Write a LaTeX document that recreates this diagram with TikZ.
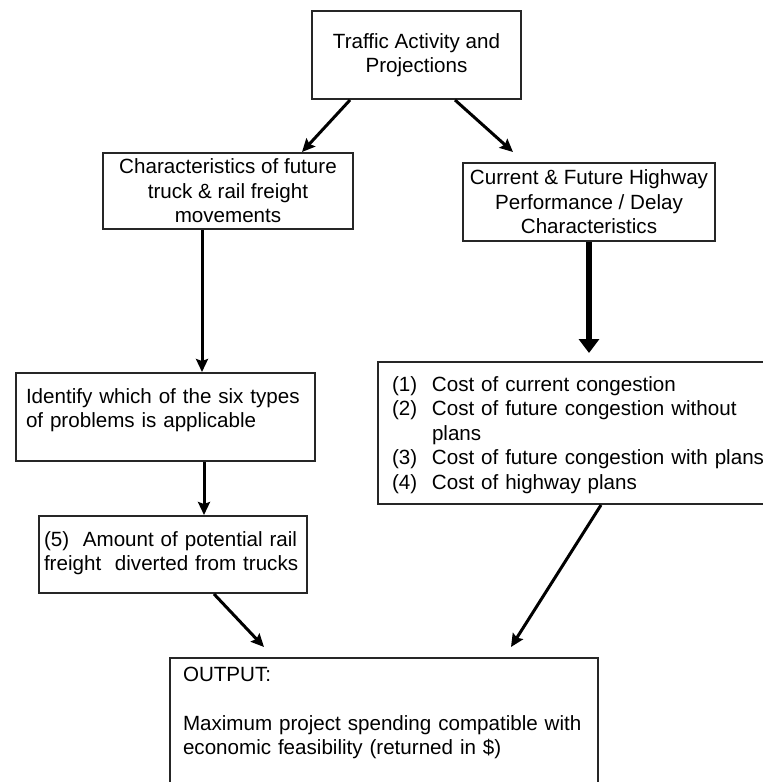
\documentclass[tikz,border=0pt]{standalone}
\usepackage{fontspec}
\setmainfont{Liberation Sans}
\usetikzlibrary{arrows.meta, calc}

\begin{document}
\begin{tikzpicture}[x=1pt, y=-1pt,
  font=\fontsize{20.6}{24.5}\selectfont,
  box/.style={draw=black!85, line width=2pt, inner sep=3pt, align=center},
  listbox/.style={draw=black!85, line width=2pt, anchor=north west, inner ysep=0pt, align=left},
  arr/.style={line width=3pt, -{Stealth[length=13pt, width=12pt, inset=2pt]}},
  bigarr/.style={line width=6pt, -{Triangle[length=14pt, width=20pt]}}]
\useasboundingbox (0,0) rectangle (763,782);

\node[box, minimum width=209pt, minimum height=88pt] (traffic) at (416.5,55) {Traffic Activity and\\Projections};
\node[box, minimum width=250pt, minimum height=76pt] (chars) at (228,191) {Characteristics of future\\truck \& rail freight\\movements};
\node[box, minimum width=252pt, minimum height=78pt] (perf) at (589,202) {Current \& Future Highway\\Performance / Delay\\Characteristics};

\node[listbox, inner xsep=10pt, text width=279pt, text height=30pt, text depth=58pt] (ident) at (15,372)
  {Identify which of the six types\\of problems is applicable};
\node[listbox, inner xsep=14pt, text width=385pt, text height=29pt, text depth=113pt] (costs) at (377,361)
  {\makebox[40pt][l]{(1)}Cost of current congestion\\
   \makebox[40pt][l]{(2)}Cost of future congestion without\\
   \hspace*{40pt}plans\\
   \makebox[40pt][l]{(3)}Cost of future congestion with plans\\
   \makebox[40pt][l]{(4)}Cost of highway plans};
\node[listbox, inner xsep=5pt, text width=258pt, text height=30pt, text depth=47pt] (rail) at (38,515)
  {(5)\ \ Amount of potential rail\\freight\ \ diverted from trucks};
\node[listbox, inner xsep=13pt, text width=402pt, text height=23pt, text depth=125pt] (output) at (169,657)
  {OUTPUT:\\[24.5pt]Maximum project spending compatible with\\economic feasibility (returned in \$)};

\draw[arr] ([xshift=-66.5pt]traffic.south) -- ([xshift=74pt]chars.north);
\draw[arr] ([xshift=38.5pt]traffic.south) -- ([xshift=-76pt, yshift=10pt]perf.north);
\draw[arr] ([xshift=-26pt]chars.south) -- ([xshift=-26pt]chars.south |- ident.north);
\draw[bigarr] (perf.south) -- ($(perf.south |- costs.north)+(0,-8)$);
\draw[arr] ([xshift=38.5pt]ident.south) -- ([xshift=38.5pt]ident.south |- rail.north);
\draw[arr] ([xshift=41pt]rail.south) -- ([xshift=-120pt, yshift=10pt]output.north);
\draw[arr] ([xshift=16.5pt]costs.south) -- ([xshift=127pt, yshift=10pt]output.north);
\end{tikzpicture}
\end{document}
